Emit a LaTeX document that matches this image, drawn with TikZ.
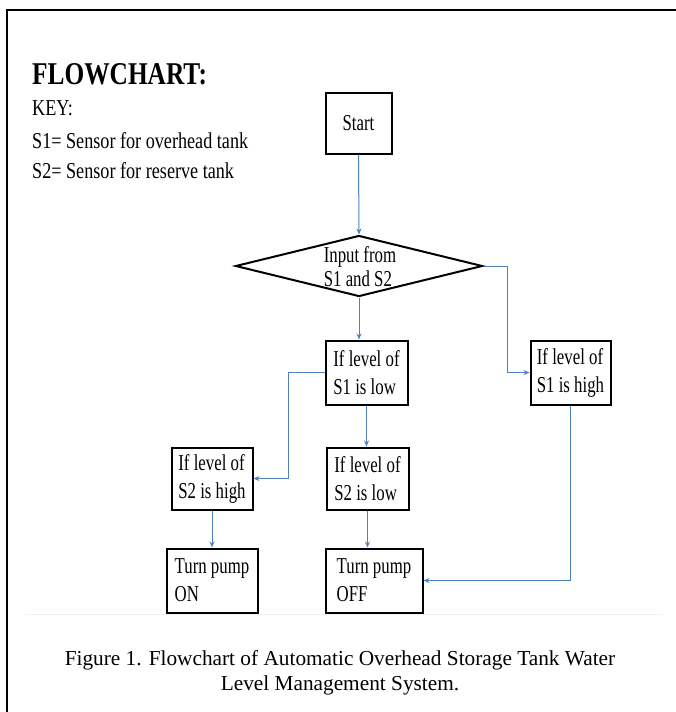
\documentclass[tikz,border=0pt]{standalone}
\usepackage{fontspec}
\setmainfont{Liberation Serif}
\newfontfamily\titlef[FakeStretch=0.8]{Liberation Serif}
\newfontfamily\keyf[FakeStretch=0.8]{Liberation Serif}
\newfontfamily\boxf[FakeStretch=0.74]{Liberation Serif}
\usetikzlibrary{shapes.geometric,arrows.meta}
\definecolor{connblue}{RGB}{79,129,189}
\begin{document}
\begin{tikzpicture}[x=1pt,y=-1pt,
  box/.style={draw,line width=2pt,inner xsep=0pt,inner ysep=0pt,align=left,
    font=\boxf\fontsize{22.7}{28}\selectfont},
  arrowline/.style={draw=connblue,line width=1pt,-{Stealth[length=6pt,width=5pt]}},
  keytext/.style={anchor=base west,inner sep=0pt,font=\keyf\fontsize{22.7}{28}\selectfont},
  captext/.style={anchor=base,inner sep=0pt,font=\fontsize{21.3}{25}\selectfont}]
\useasboundingbox (0,0) rectangle (675,712);
% frame
\draw[line width=2pt] (7,713) -- (7,10) -- (676,10);
% faint rule
\draw[gray!12,line width=1pt] (25,614) -- (663,614);
% title and key
\node[anchor=base west,inner sep=0pt,font=\titlef\fontsize{31.7}{38}\bfseries] (title) at (32,84) {FLOWCHART:};
\node[keytext] (key) at (32,115) {KEY:};
\node[keytext] (key1) at (32,148) {S1= Sensor for overhead tank};
\node[keytext] (key2) at (32,178) {S2= Sensor for reserve tank};
% nodes
\node[box,align=center,minimum width=66pt,minimum height=61pt] (start) at (358.5,123) {Start};
\node[draw,line width=2pt,diamond,inner sep=0pt,minimum width=247pt,minimum height=61pt] (dia) at (359,266) {};
\node[inner sep=0pt,align=left,font=\boxf\fontsize{22.7}{24}\selectfont] (diatext) at (360,267) {Input from\\S1 and S2};
\node[box,minimum width=82pt,minimum height=64pt] (s1low) at (366.5,372.5) {If level of\\S1 is low};
\node[box,minimum width=80pt,minimum height=64pt] (s1high) at (570.5,372.5) {If level of\\S1 is high};
\node[box,minimum width=81pt,minimum height=62pt] (s2high) at (212,478.5) {If level of\\S2 is high};
\node[box,minimum width=82pt,minimum height=62pt] (s2low) at (367.5,478.5) {If level of\\S2 is low};
\node[box,minimum width=91pt,minimum height=64pt] (on) at (212,580.5) {Turn pump\\ON};
\node[box,minimum width=97pt,minimum height=64pt] (off) at (374,580.5) {Turn pump\\OFF};
% connectors
\draw[arrowline] (start.south) -- (dia.north);
\draw[arrowline] (dia.south) -- (dia.south |- s1low.north);
\draw[arrowline] (dia.east) -- ++(24,0) |- (s1high.west);
\draw[arrowline] (s1low.west) -- ++(-36,0) |- (s2high.east);
\draw[arrowline] (s1low.south) -- (s1low.south |- s2low.north);
\draw[arrowline] (s2high.south) -- (on.north);
\draw[arrowline] (s2low.south) -- (s2low.south |- off.north);
\draw[arrowline] (s1high.south) |- (off.east);
% caption
\node[captext] (cap1) at (340,665) {Figure 1. Flowchart of Automatic Overhead Storage Tank Water};
\node[captext] (cap2) at (340,690) {Level Management System.};
\end{tikzpicture}
\end{document}
